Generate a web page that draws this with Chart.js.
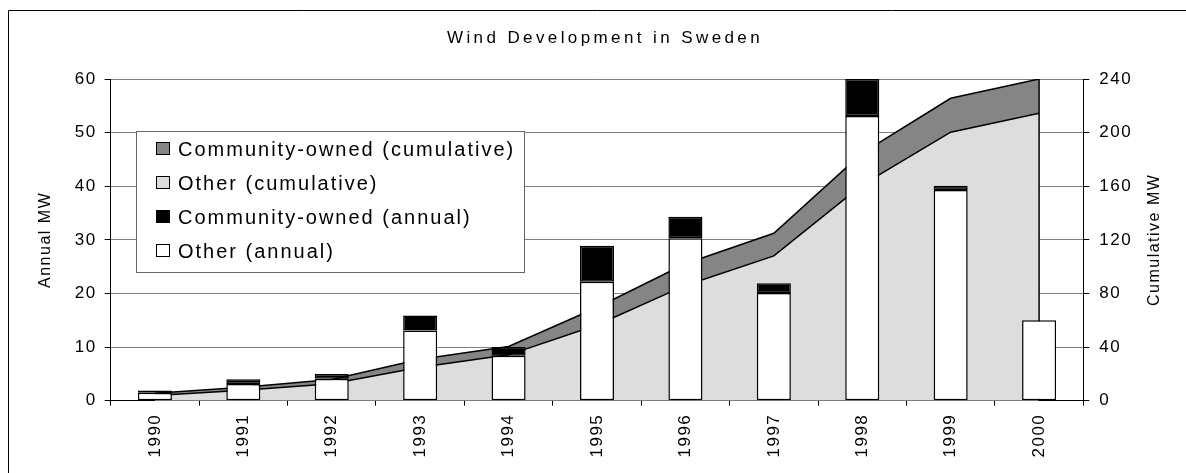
<!DOCTYPE html>
<html>
<head>
<meta charset="utf-8">
<script src="https://cdn.jsdelivr.net/npm/chart.js@4"></script>
<style>
  body { margin: 0; background: #fff; }
  canvas { display: block; }
</style>
</head>
<body>
<canvas id="windChart" width="1186" height="473"></canvas>
<script>
// values
const years = ['1990', '1991', '1992', '1993', '1994', '1995', '1996', '1997', '1998', '1999', '2000'];
const otherAnnual = [1.5, 3.1, 4.1, 13.1, 8.4, 22.2, 30.3, 20.1, 53.1, 39.3, 15.0];
const communityAnnual = [0.4, 0.9, 0.9, 2.8, 1.6, 6.7, 4.0, 1.8, 6.9, 0.8, 0];
const otherCumulative = [3.8, 7.8, 12.6, 25.0, 34.2, 56.5, 86.0, 108.0, 161.0, 200.3, 214.4];
const communityCumulative = [1.7, 2.3, 3.2, 5.9, 6.2, 13.0, 16.2, 16.9, 23.7, 25.3, 25.6];
const annualTicks = [0, 10, 20, 30, 40, 50, 60];
const cumulativeTicks = [0, 40, 80, 120, 160, 200, 240];

const FONT = "'Liberation Sans', Arial, sans-serif";
Chart.defaults.font.family = FONT;
Chart.defaults.color = '#000';

// the reference text is rendered with wide letter spacing
const spacing = {
  id: 'spacing',
  afterInit(chart) { chart.ctx.letterSpacing = '1.5px'; },
  beforeUpdate(chart) { chart.ctx.letterSpacing = '1.5px'; },
  beforeDraw(chart) { chart.ctx.letterSpacing = '1.5px'; }
};

// vertical edge of the cumulative area at the last year
const areaEdge = {
  id: 'areaEdge',
  afterDatasetDraw(chart, args) {
    if (args.index !== 1) return;
    const top = chart.getDatasetMeta(0).data;
    const last = top[top.length - 1];
    const ctx = chart.ctx;
    ctx.save();
    ctx.strokeStyle = '#000';
    ctx.lineWidth = 1.5;
    ctx.beginPath();
    ctx.moveTo(last.x, last.y);
    ctx.lineTo(last.x, chart.chartArea.bottom);
    ctx.stroke();
    ctx.restore();
  }
};

const extras = {
  id: 'extras',
  afterDraw(chart) {
    const ctx = chart.ctx;
    const area = chart.chartArea;
    ctx.save();

    // frame
    ctx.strokeStyle = '#000';
    ctx.lineWidth = 1;
    ctx.beginPath();
    ctx.moveTo(8.5, 480);
    ctx.lineTo(8.5, 10.5);
    ctx.lineTo(1190, 10.5);
    ctx.stroke();

    // title
    ctx.fillStyle = '#000';
    ctx.letterSpacing = '3.4px';
    ctx.font = '17px ' + FONT;
    ctx.textAlign = 'center';
    ctx.textBaseline = 'middle';
    ctx.fillText('Wind Development in Sweden', 605, 38);

    // right axis title
    ctx.letterSpacing = '1.5px';
    ctx.font = '16px ' + FONT;
    ctx.save();
    ctx.translate(1155, (area.top + area.bottom) / 2);
    ctx.rotate(-Math.PI / 2);
    ctx.fillText('Cumulative MW', 0, 0);
    ctx.restore();

    // legend box
    ctx.fillStyle = '#fff';
    ctx.strokeStyle = '#666';
    ctx.fillRect(136.5, 131.5, 388, 141);
    ctx.strokeRect(136.5, 131.5, 388, 141);
    ctx.letterSpacing = '2px';
    ctx.font = '20px ' + FONT;
    ctx.textAlign = 'left';
    chart.data.datasets.forEach((ds, i) => {
      const y = 149 + i * 34;
      ctx.fillStyle = ds.backgroundColor;
      ctx.fillRect(156.5, y - 6.5, 13, 12);
      ctx.strokeStyle = '#000';
      ctx.strokeRect(156.5, y - 6.5, 13, 12);
      ctx.fillStyle = '#000';
      ctx.fillText(ds.label, 178, y + 1);
    });
    ctx.restore();
  }
};

new Chart(document.getElementById('windChart'), {
  type: 'bar',
  data: {
    labels: years,
    datasets: [
      {
        type: 'line',
        label: 'Community-owned (cumulative)',
        data: communityCumulative,
        yAxisID: 'y2',
        stack: 'cumulative',
        order: 4,
        fill: 'origin',
        backgroundColor: '#858585',
        borderColor: '#000',
        borderWidth: 1.5,
        pointRadius: 0,
        tension: 0
      },
      {
        type: 'line',
        label: 'Other (cumulative)',
        data: otherCumulative,
        yAxisID: 'y2',
        stack: 'cumulative',
        order: 3,
        fill: 'origin',
        backgroundColor: '#dddddd',
        borderColor: '#000',
        borderWidth: 1.5,
        pointRadius: 0,
        tension: 0
      },
      {
        label: 'Community-owned (annual)',
        data: communityAnnual,
        yAxisID: 'y',
        stack: 'annual',
        order: 2,
        backgroundColor: '#000000',
        borderColor: '#000',
        borderWidth: 1.5,
        borderSkipped: false,
        categoryPercentage: 1,
        barPercentage: 0.385
      },
      {
        label: 'Other (annual)',
        data: otherAnnual,
        yAxisID: 'y',
        stack: 'annual',
        order: 1,
        backgroundColor: '#ffffff',
        borderColor: '#000',
        borderWidth: 1.5,
        borderSkipped: false,
        categoryPercentage: 1,
        barPercentage: 0.385
      }
    ]
  },
  options: {
    responsive: false,
    animation: false,
    layout: { padding: { top: 79, left: 0, right: 0, bottom: 0 } },
    plugins: {
      legend: { display: false },
      title: { display: false },
      tooltip: { enabled: false }
    },
    scales: {
      x: {
        stacked: true,
        offset: true,
        grid: { offset: true, drawOnChartArea: false, tickLength: 5, color: '#000' },
        border: { color: '#000' },
        ticks: { minRotation: 90, maxRotation: 90, padding: 8, font: { size: 17 } },
        afterFit(scale) { scale.height = 72.3; }
      },
      y: {
        position: 'left',
        stacked: true,
        min: 0,
        max: 60,
        afterBuildTicks(scale) { scale.ticks = annualTicks.map(v => ({ value: v })); },
        grid: { color: '#808080', tickColor: '#000', tickLength: 6 },
        border: { color: '#000' },
        ticks: { padding: 8, font: { size: 17 } },
        title: { display: true, text: 'Annual MW', font: { size: 16 }, padding: { top: 36 } },
        afterFit(scale) { scale.width = 110.7; }
      },
      y2: {
        position: 'right',
        stacked: true,
        min: 0,
        max: 240,
        afterBuildTicks(scale) { scale.ticks = cumulativeTicks.map(v => ({ value: v })); },
        grid: { drawOnChartArea: false, tickColor: '#000', tickLength: 6 },
        border: { color: '#000' },
        ticks: { padding: 10, font: { size: 17 } },
        afterFit(scale) { scale.width = 102.7; }
      }
    }
  },
  plugins: [spacing, areaEdge, extras]
});
</script>
</body>
</html>
